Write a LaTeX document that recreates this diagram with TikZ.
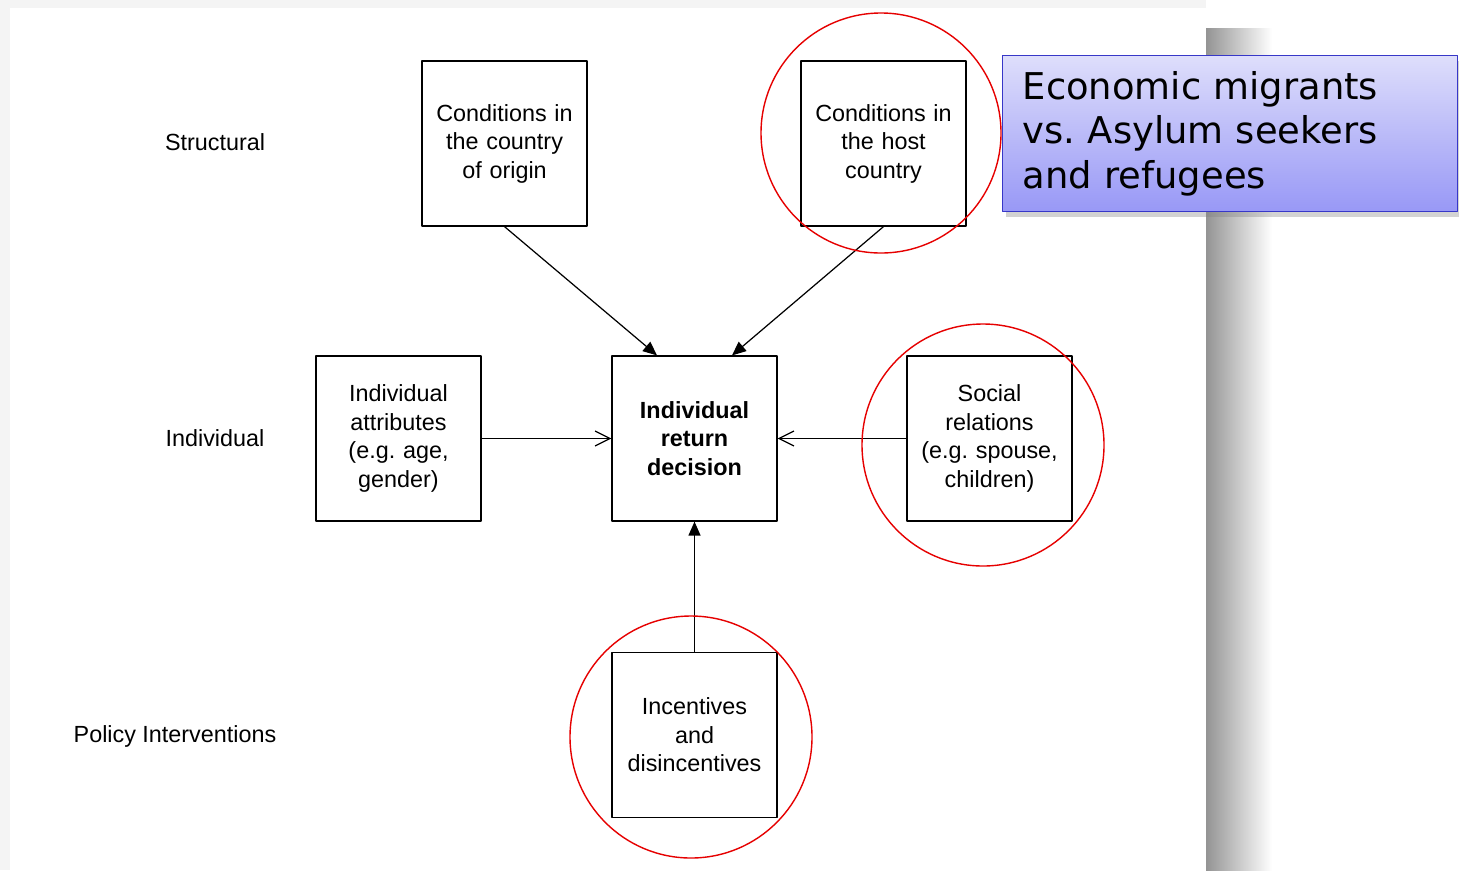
\documentclass[tikz,border=0pt]{standalone}
\usepackage{fontspec}
\setmainfont{Liberation Sans}
\newfontfamily\notefont{DejaVu Sans}
\usetikzlibrary{arrows.meta,shadows}
\frenchspacing

\definecolor{ringred}{RGB}{230,0,0}
\definecolor{notetop}{RGB}{222,222,251}
\definecolor{notebottom}{RGB}{152,152,246}
\definecolor{noteline}{RGB}{55,55,200}

\tikzset{
  factor/.style={draw, line width=0.7pt, minimum width=3.3cm, minimum height=3.3cm,
    text width=3.1cm, align=center, inner sep=1pt, font=\fontsize{13.3}{16.2}\selectfont},
  level/.style={font=\fontsize{13.3}{16.2}\selectfont},
  ring/.style={draw=ringred, line width=0.8pt},
  solidtip/.style={-{Triangle[length=0.28cm,width=0.24cm]}, line width=0.7pt},
  opentip/.style={-{Straight Barb[length=0.3cm,width=0.3cm]}, line width=0.7pt},
  note/.style={draw=noteline, line width=0.8pt, top color=notetop, bottom color=notebottom,
    anchor=north west, minimum width=9.1cm, minimum height=3.12cm, text width=8.3cm,
    inner xsep=0.4cm, align=left, font=\notefont\fontsize{21}{25.5}\selectfont,
    drop shadow={shadow xshift=2pt, shadow yshift=-3pt, opacity=0.35}},
}

\begin{document}
\begin{tikzpicture}[line cap=round,line join=round,x=0.02cm,y=-0.02cm]
  \useasboundingbox (0,0) rectangle (1459,870);
  %% slide page and its shadow
  \fill[gray!9] (0,0) rectangle (1206,870);
  \fill[white] (10,8) rectangle (1206,870);
  \shade[left color=black!42, right color=white] (1206,28) rectangle (1272,870);

  %% level labels
  \node[level] (structural) at (215,142) {Structural};
  \node[level] (individual) at (215,438) {Individual};
  \node[level] (policy) at (175,736) {Policy Interventions};

  %% factors
  \node[factor] (origin) at (504.5,143.5) {Conditions in\\the country\\of origin};
  \node[factor] (host) at (883.5,143.5) {Conditions in\\the host\\country};
  \node[factor] (attrib) at (398.5,438.5) {Individual\\attributes\\(e.g. age,\\gender)};
  \node[factor, font=\fontsize{13.3}{16.2}\selectfont\bfseries] (decision) at (694.5,438.5) {Individual\\return\\decision};
  \node[factor] (social) at (989.5,438.5) {Social\\relations\\(e.g. spouse,\\children)};
  \node[factor] (incent) at (694.5,735) {Incentives\\and\\disincentives};

  \draw[solidtip] (origin.south) -- ([xshift=-0.75cm]decision.north);
  \draw[solidtip] (host.south) -- ([xshift=0.75cm]decision.north);
  \draw[opentip] (attrib.east) -- (decision.west);
  \draw[opentip] (social.west) -- (decision.east);
  \draw[solidtip] (incent.north) -- (decision.south);

  %% highlight rings
  \draw[ring] (881,133) circle (120);
  \draw[ring] (983,445) circle (121);
  \draw[ring] (691,737) circle (121);

  \node[note] (remark) at (1002,55) {Economic migrants\\vs. Asylum seekers\\and refugees};
\end{tikzpicture}
\end{document}
